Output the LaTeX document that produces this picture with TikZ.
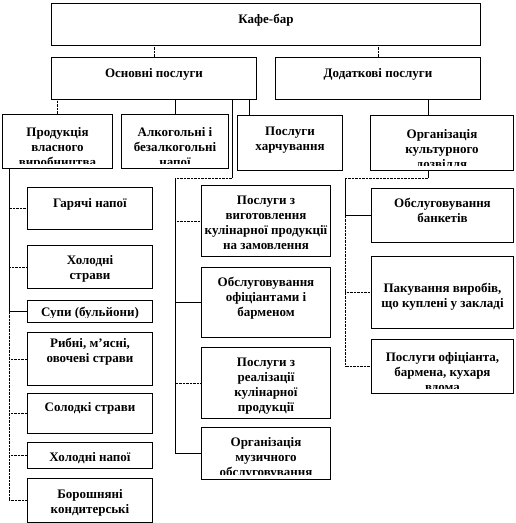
\documentclass[tikz,border=0pt]{standalone}
\usepackage{fontspec}
\setmainfont{Liberation Serif}
\usetikzlibrary{positioning,calc}

\begin{document}
\begin{tikzpicture}[x=1pt,y=-1pt,
  box/.style={draw,line width=1pt,anchor=north west,inner sep=0pt},
  lbl/.style={draw=none,minimum width=0pt,minimum height=0pt,font=\bfseries\fontsize{13}{15}\selectfont,align=center,anchor=north,inner sep=0pt},
  txt/.style 2 args={path picture={
    \clip ([yshift=5pt]path picture bounding box.south west) rectangle (path picture bounding box.north east);
    \node[lbl] at ([yshift=-#1]path picture bounding box.north) {#2};}},
  link/.style={line width=.8pt},
  dlink/.style={line width=.8pt,dash pattern=on .7pt off .7pt}]
\useasboundingbox (0,0) rectangle (515,523);
% top levels
\node[box,minimum width=429pt,minimum height=42pt,txt={10pt}{Кафе-бар}] (cafe) at (51,3) {};
\node[box,minimum width=205pt,minimum height=42pt,txt={10pt}{Основні послуги}] (main) at (51,57) {};
\node[box,minimum width=205pt,minimum height=42pt,txt={10pt}{Додаткові послуги}] (extra) at (275,57) {};
% second row
\node[box,minimum width=110pt,minimum height=54pt,txt={12pt}{Продукція\\власного\\виробництва}] (prod) at (2,114) {};
\node[box,minimum width=107pt,minimum height=54pt,txt={12pt}{Алкогольні і\\безалкогольні\\напої}] (alc) at (121,114) {};
\node[box,minimum width=105pt,minimum height=55pt,txt={11pt}{Послуги\\харчування}] (food) at (237,115) {};
\node[box,minimum width=143pt,minimum height=55pt,txt={13pt}{Організація\\культурного\\дозвілля}] (cult) at (370,115) {};
% left column
\node[box,minimum width=125pt,minimum height=42pt,txt={10pt}{Гарячі напої}] (hot) at (27,187) {};
\node[box,minimum width=125pt,minimum height=43pt,txt={9pt}{Холодні\\страви}] (colddish) at (27,245) {};
\node[box,minimum width=125pt,minimum height=22pt,txt={6pt}{Супи (бульйони)}] (soup) at (27,300) {};
\node[box,minimum width=125pt,minimum height=53pt,txt={5pt}{Рибні, м’ясні,\\овочеві страви}] (fish) at (27,332) {};
\node[box,minimum width=125pt,minimum height=40pt,txt={8pt}{Солодкі страви}] (sweet) at (27,393) {};
\node[box,minimum width=125pt,minimum height=26pt,txt={9pt}{Холодні напої}] (colddrink) at (27,442) {};
\node[box,minimum width=125pt,minimum height=44pt,txt={10pt}{Борошняні\\кондитерські}] (flour) at (27,478) {};
% middle column
\node[box,minimum width=129pt,minimum height=71pt,txt={10pt}{Послуги з\\виготовлення\\кулінарної продукції\\на замовлення}] (cook) at (201,185) {};
\node[box,minimum width=129pt,minimum height=70pt,txt={9pt}{Обслуговування\\офіціантами і\\барменом}] (waiter) at (201,267) {};
\node[box,minimum width=129pt,minimum height=71pt,txt={10pt}{Послуги з\\реалізації\\кулінарної\\продукції}] (sale) at (201,347) {};
\node[box,minimum width=129pt,minimum height=52pt,txt={9pt}{Організація\\музичного\\обслуговування}] (music) at (201,427) {};
% right column
\node[box,minimum width=142pt,minimum height=54pt,txt={9pt}{Обслуговування\\банкетів}] (banq) at (371,188) {};
\node[box,minimum width=142pt,minimum height=72pt,txt={26pt}{Пакування виробів,\\що куплені у закладі}] (pack) at (371,256) {};
\node[box,minimum width=142pt,minimum height=54pt,txt={12pt}{Послуги офіціанта,\\бармена, кухаря\\вдома}] (home) at (371,339) {};
% links
\draw[dlink] (main.north) -- (main.north |- cafe.south);
\draw[dlink] (extra.north) -- (extra.north |- cafe.south);
\draw[dlink] (prod.north) -- (prod.north |- main.south);
\draw[link] (alc.north) -- (alc.north |- main.south);
\draw[link] ([xshift=12pt]food.north west) -- ([xshift=12pt]food.north west |- main.south);
\draw[link] ([xshift=-14pt]cult.north) -- ([xshift=-14pt]cult.north |- extra.south);
\coordinate (midbus) at (175,178);
\coordinate (rbus) at (345,178);
\draw[link] ([xshift=-25pt]main.south east) -- ([xshift=-25pt]main.south east |- midbus);
\draw[dlink] ([xshift=-25pt]main.south east |- midbus) -- (midbus);
\foreach \n/\s in {cook/dlink,waiter/link,sale/dlink,music/link}
  \draw[\s] (midbus) |- (\n.west);
\draw[link] ([xshift=-14pt]cult.south) -- ([xshift=-14pt]cult.south |- rbus);
\draw[dlink] ([xshift=-14pt]cult.south |- rbus) -- (rbus);
\foreach \n/\s in {banq/link,pack/dlink,home/dlink}
  \draw[\s] (rbus) |- (\n.west);
\foreach \n/\s in {hot/dlink,colddish/dlink,soup/link,fish/dlink,sweet/dlink,colddrink/dlink,flour/dlink}
  \draw[\s] ([xshift=7pt]prod.south west) |- (\n.west);
\end{tikzpicture}
\end{document}
